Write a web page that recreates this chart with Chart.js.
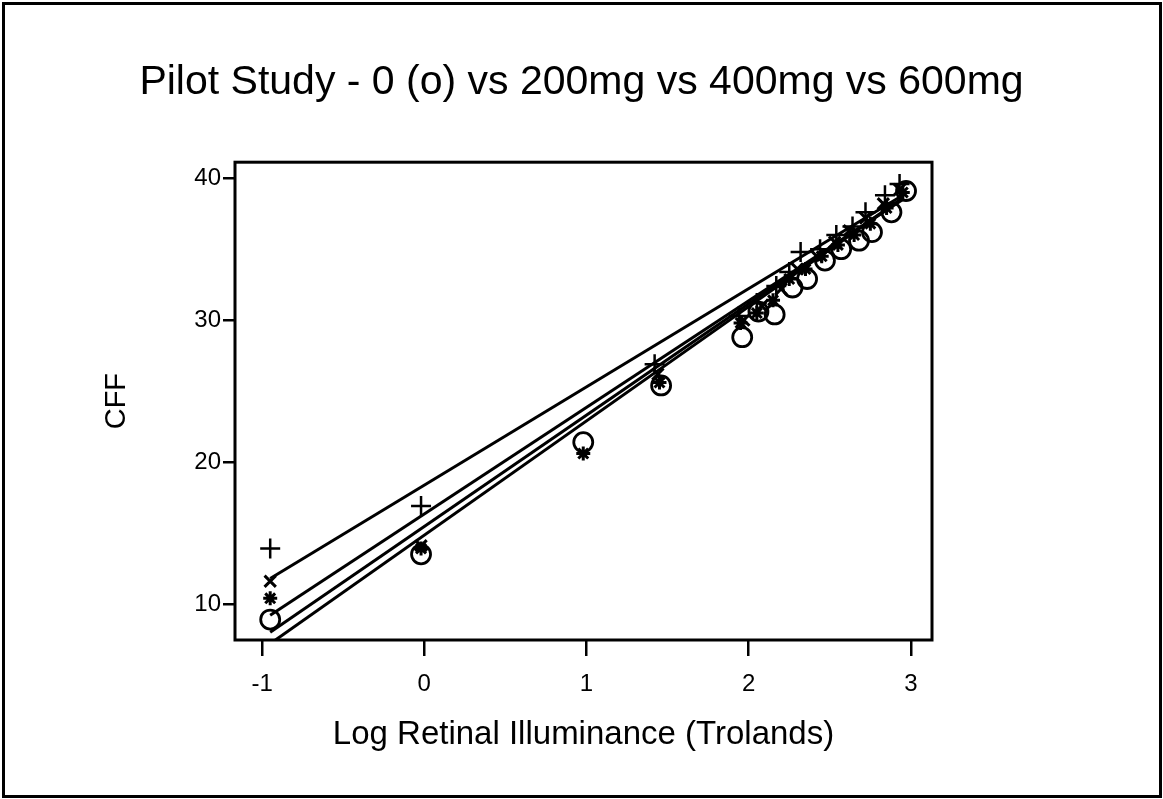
<!DOCTYPE html>
<html>
<head>
<meta charset="utf-8">
<script src="https://cdn.jsdelivr.net/npm/chart.js@4.4.1/dist/chart.umd.min.js"></script>
<style>
  html, body { margin: 0; padding: 0; background: #fff; }
  #wrap { position: absolute; left: 0; top: 0; width: 1163px; height: 799px; }
</style>
</head>
<body>
<div id="wrap"><canvas id="cff" width="1163" height="799"></canvas></div>
<script>
// Data
const xTicks = [-1, 0, 1, 2, 3];
const yTicks = [10, 20, 30, 40];

// 0 mg (o)
const dose0X = [-0.95, -0.02, 0.98, 1.46, 1.96, 2.06, 2.16, 2.27, 2.36, 2.47, 2.57, 2.68, 2.76, 2.88, 2.97];
const dose0Y = [8.9, 13.5, 21.4, 25.4, 28.8, 30.6, 30.4, 32.3, 32.9, 34.2, 35.0, 35.6, 36.2, 37.6, 39.1];
// +
const plusX = [-0.95, -0.02, 1.42, 1.94, 2.05, 2.17, 2.25, 2.32, 2.44, 2.54, 2.64, 2.72, 2.84, 2.93];
const plusY = [13.9, 16.9, 26.9, 30.3, 31.2, 32.4, 33.4, 34.8, 35.0, 36.0, 36.6, 37.6, 38.8, 39.6];
// x
const crossX = [-0.95, -0.02, 1.44, 1.97, 2.08, 2.20, 2.30, 2.42, 2.53, 2.62, 2.72, 2.83, 2.93];
const crossY = [11.6, 14.1, 26.2, 30.0, 31.0, 32.2, 33.6, 34.5, 35.5, 36.3, 37.2, 38.2, 39.2];
// *
const starX = [-0.95, -0.02, 0.98, 1.45, 1.95, 2.05, 2.15, 2.25, 2.35, 2.45, 2.55, 2.65, 2.75, 2.85, 2.95];
const starY = [10.4, 13.9, 20.6, 25.6, 29.8, 30.5, 31.4, 32.9, 33.6, 34.5, 35.3, 36.0, 36.8, 37.9, 39.0];

// fitted lines, end points at x = -0.95 and x = 2.95
const fitX = [-0.95, 2.95];
const fitPlusY = [11.8, 38.8];
const fitCrossY = [9.2, 38.5];
const fitStarY = [8.0, 38.6];
const fitDose0Y = [7.2, 38.6];

const FONT = "'Liberation Sans', Arial, Helvetica, sans-serif";

function pts(xs, ys) { return xs.map((x, i) => ({ x: x, y: ys[i] })); }

function markerSet(xs, ys, style, radius, width) {
    return {
        type: 'scatter', data: pts(xs, ys), showLine: false,
        pointStyle: style, pointRadius: radius, pointHoverRadius: radius,
        borderColor: '#000', backgroundColor: 'rgba(0,0,0,0)', pointBorderWidth: width
    };
}

function fitLine(ys) {
    return {
        type: 'line', data: pts(fitX, ys), borderColor: '#000', borderWidth: 3,
        pointRadius: 0, fill: false, tension: 0
    };
}

// white page, scan border and plot frame
const framePlugin = {
    id: 'frame',
    beforeDraw(chart) {
        const c = chart.ctx;
        c.save();
        c.fillStyle = '#fff';
        c.fillRect(0, 0, chart.width, chart.height);
        c.restore();
    },
    afterDraw(chart) {
        const c = chart.ctx, a = chart.chartArea;
        c.save();
        c.strokeStyle = '#000';
        c.lineWidth = 3;
        c.strokeRect(a.left, a.top, a.right - a.left, a.bottom - a.top);
        c.strokeRect(3.5, 3.5, chart.width - 6, chart.height - 6);
        c.restore();
    }
};

const chart = new Chart(document.getElementById('cff'), {
    type: 'scatter',
    data: {
        datasets: [
            fitLine(fitPlusY), fitLine(fitCrossY), fitLine(fitStarY), fitLine(fitDose0Y),
            markerSet(dose0X, dose0Y, 'circle', 9.5, 2.8),
            markerSet(plusX, plusY, 'cross', 10, 2.5),
            markerSet(crossX, crossY, 'crossRot', 8, 3),
            markerSet(starX, starY, 'star', 7, 3)
        ]
    },
    options: {
        responsive: false,
        animation: false,
        layout: { padding: { left: 0, right: 0, top: 40, bottom: 40 } },
        plugins: {
            legend: { display: false },
            tooltip: { enabled: false },
            title: {
                display: true,
                text: 'Pilot Study - 0 (o) vs 200mg vs 400mg vs 600mg',
                color: '#000',
                font: { family: FONT, size: 41, weight: 'normal' },
                padding: { top: 18, bottom: 55 }
            }
        },
        scales: {
            x: {
                type: 'linear', min: -1.167, max: 3.13,
                afterBuildTicks: s => { s.ticks = xTicks.map(v => ({ value: v })); },
                afterFit: s => { s.height = 119; },
                border: { display: false },
                grid: { drawOnChartArea: false, drawTicks: true, tickLength: 16, lineWidth: 2.5, color: '#000' },
                ticks: { color: '#000', padding: 14, font: { family: FONT, size: 24 } },
                title: {
                    display: true, text: 'Log Retinal Illuminance (Trolands)', color: '#000',
                    font: { family: FONT, size: 33, weight: 'normal' }
                }
            },
            y: {
                type: 'linear', min: 7.46, max: 41.13,
                afterBuildTicks: s => { s.ticks = yTicks.map(v => ({ value: v })); },
                afterFit: s => { s.width = 235; },
                border: { display: false },
                grid: { drawOnChartArea: false, drawTicks: true, tickLength: 12, lineWidth: 2.5, color: '#000' },
                ticks: { color: '#000', padding: 2, font: { family: FONT, size: 24 } },
                title: {
                    display: true, text: 'CFF', color: '#000',
                    font: { family: FONT, size: 29, weight: 'normal' },
                    padding: { top: 100, bottom: 0 }
                }
            },
            // empty right-hand gutter so the plot box sits where the scan has it
            gutter: {
                type: 'linear', position: 'right', display: true,
                afterFit: s => { s.width = 231; },
                border: { display: false },
                grid: { display: false },
                ticks: { display: false }
            }
        }
    },
    plugins: [framePlugin]
});
</script>
</body>
</html>
